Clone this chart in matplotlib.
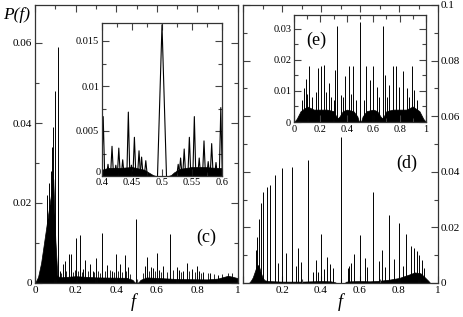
import numpy as np
import matplotlib
matplotlib.use("Agg")
import matplotlib.pyplot as plt
from matplotlib.ticker import MultipleLocator, FuncFormatter

plt.rcParams['font.family'] = ['Liberation Serif', 'DejaVu Serif']

# ---------------- data ----------------
# panel (c): main spectrum, peak positions / heights
c_peak_f = [0.06, 0.07, 0.077, 0.084, 0.090, 0.100, 0.112, 0.125, 0.138, 0.148, 0.166, 0.177,
            0.202, 0.222, 0.235, 0.248, 0.27, 0.285, 0.30, 0.332, 0.357, 0.38, 0.399, 0.42,
            0.443, 0.46, 0.4975, 0.542, 0.553, 0.57, 0.581, 0.599, 0.613, 0.632, 0.665, 0.698,
            0.711, 0.727, 0.747, 0.772, 0.796, 0.81, 0.83, 0.86, 0.9]
c_peak_p = [0.022, 0.025, 0.028, 0.034, 0.039, 0.048, 0.059, 0.003, 0.0048, 0.0055, 0.0073, 0.0073,
            0.0112, 0.012, 0.0035, 0.0058, 0.0047, 0.003, 0.0062, 0.0126, 0.0045, 0.003, 0.0072, 0.0048,
            0.007, 0.004, 0.016, 0.0042, 0.0064, 0.004, 0.0038, 0.0074, 0.0032, 0.0043, 0.0122, 0.0041,
            0.0033, 0.003, 0.0049, 0.0035, 0.0042, 0.003, 0.0028, 0.0025, 0.002]
# small spikes riding on the background
c_small_f = [0.13, 0.155, 0.185, 0.195, 0.21, 0.23, 0.26, 0.29, 0.31, 0.32, 0.345, 0.37, 0.39,
             0.41, 0.43, 0.45, 0.47, 0.53, 0.56, 0.59, 0.62, 0.65, 0.68, 0.72, 0.76, 0.79,
             0.82, 0.85, 0.88, 0.92, 0.95, 0.97]
c_small_p = [0.0025, 0.003, 0.0028, 0.0032, 0.003, 0.0028, 0.003, 0.0027, 0.0029, 0.0026, 0.003,
             0.0032, 0.0028, 0.003, 0.0027, 0.003, 0.0022, 0.0025, 0.003, 0.0031, 0.0028, 0.0027,
             0.0032, 0.0028, 0.003, 0.0027, 0.0025, 0.0024, 0.0022, 0.0023, 0.0026, 0.0024]
# background envelope of panel (c)
c_bg_f = [0.0, 0.015, 0.03, 0.05, 0.07, 0.09, 0.1, 0.11, 0.12, 0.2, 0.3, 0.45, 0.48, 0.49, 0.5,
          0.51, 0.52, 0.55, 0.7, 0.85, 0.9, 0.95, 0.97, 1.0]
c_bg_p = [0.0, 0.0015, 0.005, 0.012, 0.019, 0.026, 0.011, 0.002, 0.0014, 0.0017, 0.0014, 0.0013,
          0.0008, 0.0002, 0.0, 0.0002, 0.0008, 0.0014, 0.001, 0.0009, 0.0011, 0.0018, 0.0016, 0.0012]

# inset of (c): zoom around f = 0.5
ci_peak_f = [0.402, 0.41, 0.4167, 0.423, 0.428, 0.4345, 0.4439, 0.449, 0.454, 0.4617, 0.466,
             0.473, 0.5, 0.527, 0.531, 0.537, 0.5456, 0.5539, 0.562, 0.57, 0.577, 0.5828,
             0.59, 0.598]
ci_peak_p = [0.0066, 0.0013, 0.0033, 0.0012, 0.0031, 0.0018, 0.0071, 0.0012, 0.0043, 0.0028, 0.0021,
             0.0017, 0.0168, 0.0013, 0.002, 0.003, 0.0043, 0.0066, 0.002, 0.0039, 0.0016, 0.0036,
             0.0015, 0.0076]
ci_bg_f = [0.4, 0.41, 0.43, 0.45, 0.47, 0.48, 0.485, 0.49, 0.51, 0.515, 0.52, 0.53, 0.55, 0.57,
           0.59, 0.6]
ci_bg_p = [0.0007, 0.0009, 0.0009, 0.001, 0.0007, 0.0003, 0.0001, 0.0, 0.0, 0.0001, 0.0004,
           0.0008, 0.001, 0.001, 0.0009, 0.0009]

# panel (d)
d_peak_f = [0.0667, 0.0735, 0.0838, 0.0923, 0.104, 0.1214, 0.138, 0.164, 0.18, 0.198, 0.219,
            0.2496, 0.27, 0.2838, 0.2974, 0.3316, 0.36, 0.3726, 0.385, 0.398, 0.417, 0.429,
            0.446, 0.459, 0.501, 0.5385, 0.545, 0.554, 0.571, 0.6, 0.6256, 0.634, 0.668, 0.699,
            0.714, 0.728, 0.75, 0.773, 0.8017, 0.818, 0.836, 0.86, 0.877, 0.891, 0.905, 0.917, 0.93]
d_peak_p = [0.0119, 0.0167, 0.0229, 0.0287, 0.0329, 0.0347, 0.0353, 0.0389, 0.0072, 0.0412, 0.0109,
            0.0419, 0.006, 0.0125, 0.0075, 0.0442, 0.004, 0.0083, 0.004, 0.0176, 0.005, 0.0095,
            0.0067, 0.0055, 0.0525, 0.0055, 0.006, 0.0072, 0.0103, 0.0173, 0.0089, 0.0059, 0.0329,
            0.008, 0.0119, 0.0058, 0.0245, 0.0085, 0.0215, 0.006, 0.0175, 0.0133, 0.0125, 0.0115,
            0.0101, 0.0083, 0.0053]
d_bg_f = [0.03, 0.04, 0.05, 0.06, 0.07, 0.08, 0.09, 0.1, 0.11, 0.13, 0.2, 0.3, 0.4, 0.45, 0.47,
          0.48, 0.52, 0.53, 0.55, 0.6, 0.65, 0.7, 0.75, 0.8, 0.85, 0.88, 0.91, 0.93, 0.95, 0.96]
d_bg_p = [0.0, 0.0008, 0.002, 0.004, 0.006, 0.0065, 0.004, 0.002, 0.001, 0.0007, 0.0005, 0.0005,
          0.0007, 0.0006, 0.0003, 0.0, 0.0, 0.0005, 0.0006, 0.0007, 0.0006, 0.0008, 0.0012, 0.0018,
          0.003, 0.0038, 0.0035, 0.0022, 0.0008, 0.0]

# inset (e)
e_peak_f = [0.06, 0.075, 0.089, 0.1, 0.114, 0.14, 0.165, 0.185, 0.208, 0.228, 0.246, 0.266, 0.284,
            0.3, 0.314, 0.327, 0.354, 0.37, 0.385, 0.413, 0.43, 0.448, 0.473, 0.499, 0.527, 0.549,
            0.575, 0.6, 0.625, 0.645, 0.671, 0.689, 0.705, 0.722, 0.752, 0.772, 0.797, 0.823,
            0.853, 0.87, 0.891, 0.909, 0.93]
e_peak_p = [0.007, 0.011, 0.0138, 0.009, 0.0182, 0.008, 0.0098, 0.0174, 0.018, 0.0185, 0.0098,
            0.0127, 0.0082, 0.007, 0.0168, 0.031, 0.0087, 0.008, 0.0147, 0.018, 0.009, 0.0182,
            0.007, 0.0323, 0.007, 0.018, 0.0136, 0.018, 0.0114, 0.008, 0.031, 0.0152, 0.008,
            0.012, 0.018, 0.018, 0.0114, 0.0163, 0.0109, 0.008, 0.0182, 0.0103, 0.007]
e_bg_f = [0.0, 0.02, 0.05, 0.1, 0.15, 0.2, 0.25, 0.3, 0.32, 0.333, 0.345, 0.37, 0.4, 0.45, 0.48,
          0.49, 0.5, 0.51, 0.52, 0.55, 0.6, 0.63, 0.655, 0.667, 0.68, 0.7, 0.75, 0.8, 0.85, 0.9,
          0.95, 0.98, 1.0]
e_bg_p = [0.0, 0.001, 0.0035, 0.005, 0.004, 0.004, 0.004, 0.0035, 0.0018, 0.0012, 0.0018, 0.0035,
          0.004, 0.0035, 0.0018, 0.0004, 0.0, 0.0004, 0.0018, 0.0035, 0.004, 0.0035, 0.0018, 0.0012,
          0.0018, 0.0035, 0.004, 0.004, 0.004, 0.005, 0.0035, 0.001, 0.0]

# ------------------------------------------------------------

fig = plt.figure(figsize=(4.63, 3.17), dpi=100)

axc = fig.add_axes([35/463, 1-283/317, 203/463, 278/317])
axd = fig.add_axes([243/463, 1-283/317, 195/463, 278/317])
axci = fig.add_axes([102/463, 1-176/317, 120/463, 153/317])
axe = fig.add_axes([294/463, 1-122/317, 132/463, 107/317])


def style(ax, xmaj, xmin, ymaj, ymin, fs=8):
    ax.xaxis.set_major_locator(MultipleLocator(xmaj))
    ax.xaxis.set_minor_locator(MultipleLocator(xmin))
    ax.yaxis.set_major_locator(MultipleLocator(ymaj))
    ax.yaxis.set_minor_locator(MultipleLocator(ymin))
    ax.tick_params(which='both', direction='in', top=True, right=True, labelsize=fs, pad=2,
                   width=0.8, color='#444444')
    ax.tick_params(which='major', length=5)
    ax.tick_params(which='minor', length=3)
    fmt = FuncFormatter(lambda v, p: ('%g' % round(v, 6)))
    ax.xaxis.set_major_formatter(fmt)
    ax.yaxis.set_major_formatter(fmt)
    for s in ax.spines.values():
        s.set_linewidth(0.9)
        s.set_color('#333333')


def spikes(ax, f, p, lw=0.7):
    ax.vlines(f, 0, p, colors='black', linewidth=lw)


def triangles(ax, f, p, hw, lw=0.8):
    for fi, pi in zip(f, p):
        w = hw * 3 if pi > 0.01 else hw
        ax.plot([fi - w, fi, fi + w], [0, pi, 0], color='black', linewidth=lw)


# (c)
axc.fill_between(c_bg_f, 0, c_bg_p, color='black', linewidth=0.5)
spikes(axc, c_peak_f, c_peak_p)
spikes(axc, c_small_f, c_small_p, lw=0.6)
axc.set_xlim(0, 1)
axc.set_ylim(0, 0.0695)
style(axc, 0.2, 0.1, 0.02, 0.01)
axc.text(0.845, 0.165, '(c)', transform=axc.transAxes, fontsize=13, ha='center', va='center')

# inset of (c)
axci.fill_between(ci_bg_f, 0, ci_bg_p, color='black', linewidth=0.5)
triangles(axci, ci_peak_f, ci_peak_p, 0.0025)
axci.set_xlim(0.4, 0.6)
axci.set_ylim(0, 0.017)
style(axci, 0.05, 0.025, 0.005, 0.0025, fs=7.5)
axci.tick_params(axis='x', pad=1.5)
axci.yaxis.set_major_formatter(FuncFormatter(lambda v, p: '%g' % round(v, 6)))
axci.set_yticks([0.005, 0.01, 0.015])
axci.yaxis.set_minor_locator(MultipleLocator(0.0025))
axci.text(-0.01, 0.02, '0', transform=axci.transAxes, fontsize=7.5, ha='right', va='center')

# (d)
axd.fill_between(d_bg_f, 0, d_bg_p, color='black', linewidth=0.5)
spikes(axd, d_peak_f, d_peak_p)
axd.set_xlim(0, 1)
axd.set_ylim(0, 0.1)
style(axd, 0.2, 0.1, 0.02, 0.01)
axd.tick_params(axis='y', labelleft=False, labelright=True)
axd.xaxis.set_major_formatter(FuncFormatter(lambda v, p: '' if v < 0.01 else '%g' % round(v, 6)))
axd.text(0.84, 0.43, '(d)', transform=axd.transAxes, fontsize=13, ha='center', va='center')

# inset (e)
axe.fill_between(e_bg_f, 0, e_bg_p, color='black', linewidth=0.5)
spikes(axe, e_peak_f, e_peak_p, lw=0.7)
axe.set_xlim(0, 1)
axe.set_ylim(0, 0.0345)
style(axe, 0.2, 0.1, 0.01, 0.005, fs=7.5)
axe.text(0.17, 0.76, '(e)', transform=axe.transAxes, fontsize=13, ha='center', va='center')

fig.text(133/463, 1-302/317, 'f', fontsize=13, style='italic', ha='center', va='center')
fig.text(340/463, 1-302/317, 'f', fontsize=13, style='italic', ha='center', va='center')
fig.text(17/463, 1-15/317, 'P(f)', fontsize=12.5, style='italic', ha='center', va='center')

fig.savefig('out.png', dpi=100)
